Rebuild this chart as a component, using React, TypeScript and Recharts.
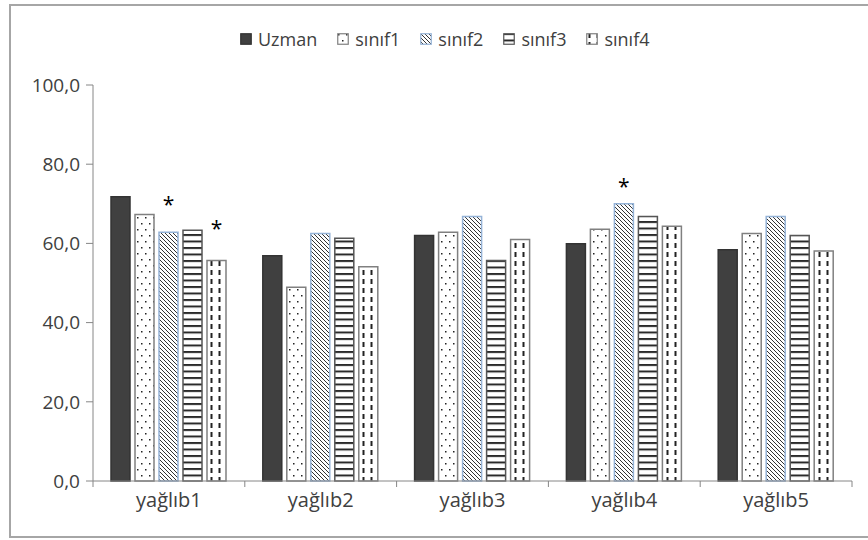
import React from "react"
import { BarChart, Bar, XAxis, YAxis, LabelList } from "recharts"

const categories = ["yağlıb1", "yağlıb2", "yağlıb3", "yağlıb4", "yağlıb5"]
const seriesNames = ["Uzman", "sınıf1", "sınıf2", "sınıf3", "sınıf4"]

const uzman = [71.8, 56.9, 62.0, 59.9, 58.4]
const sinif1 = [67.3, 48.9, 62.8, 63.6, 62.5]
const sinif2 = [62.8, 62.5, 66.8, 70.0, 66.8]
const sinif3 = [63.3, 61.3, 55.7, 66.8, 62.0]
const sinif4 = [55.7, 54.1, 61.0, 64.3, 58.1]

// level (in axis units) where the "*" marks sit
const sinif2Star = [70.5, null, null, 74.9, null]
const sinif4Star = [64.5, null, null, null, null]

const yTicks = [0, 20, 40, 60, 80, 100]

const values = [uzman, sinif1, sinif2, sinif3, sinif4]

const data = categories.map((name, i) => {
  const row: any = { name }
  seriesNames.forEach((s, j) => {
    row[s] = values[j][i]
  })
  row.s2 = sinif2Star[i]
  row.s4 = sinif4Star[i]
  return row
})

const styles = [
  { fill: "#404040", stroke: "#333333" },
  { fill: "url(#pDots)", stroke: "#808080" },
  { fill: "url(#pDiag)", stroke: "#95b3d7" },
  { fill: "url(#pHoriz)", stroke: "#555555" },
  { fill: "url(#pDash)", stroke: "#808080" },
]

const FONT = "'Open Sans', 'Liberation Sans', sans-serif"
const TEXT = "#404040"
const AXIS = "#868686"

const Patterns = () => (
  <svg width={0} height={0} style={{ position: "absolute" }}>
    <defs>
      <pattern id="pDots" width={8} height={12} patternUnits="userSpaceOnUse">
        <rect width={8} height={12} fill="#fff" />
        <rect x={1} y={1} width={1.5} height={1.5} fill="#222" />
        <rect x={5} y={7} width={1.5} height={1.5} fill="#222" />
      </pattern>
      <pattern id="pDiag" width={4} height={4} patternUnits="userSpaceOnUse">
        <rect width={4} height={4} fill="#fff" />
        <path d="M-1,-1 L5,5 M-1,3 L1,5 M3,-1 L5,1" stroke="#333" strokeWidth={1} />
      </pattern>
      <pattern id="pHoriz" width={6} height={6.5} patternUnits="userSpaceOnUse">
        <rect width={6} height={6.5} fill="#fff" />
        <rect x={0} y={0} width={6} height={2} fill="#2a2a2a" />
      </pattern>
      <pattern id="pDash" width={8} height={9} patternUnits="userSpaceOnUse">
        <rect width={8} height={9} fill="#fff" />
        <rect x={2.5} y={0} width={2} height={5} fill="#222" />
      </pattern>
    </defs>
  </svg>
)

const CategoryTick = (props: any) => {
  const { x, y, payload, index, visibleTicksCount } = props
  const count = visibleTicksCount || categories.length
  const band = (props.width || 759) / count
  return (
    <g>
      <line x1={x - band / 2} x2={x - band / 2} y1={y} y2={y + 6} stroke={AXIS} />
      {index === count - 1 && (
        <line x1={x + band / 2} x2={x + band / 2} y1={y} y2={y + 6} stroke={AXIS} />
      )}
      <text x={x} y={y + 26} textAnchor="middle" fontSize={20} fill={TEXT} fontFamily={FONT}>
        {payload.value}
      </text>
    </g>
  )
}

const starLabel = (seriesName: string) => (p: any) => {
  const star = p.value
  if (star == null) return null
  const v = data[p.index][seriesName]
  const k = p.height / v
  const sy = p.y - (star - v) * k
  return (
    <text x={p.x + p.width / 2} y={sy + 10} textAnchor="middle" fontSize={21} fill="#000" fontFamily={FONT}>
      *
    </text>
  )
}

const LegendBox = () => (
  <div
    style={{
      position: "absolute",
      left: 240,
      top: 27,
      display: "flex",
      gap: 20,
      fontFamily: FONT,
      fontSize: 18,
      color: TEXT,
      lineHeight: "24px",
    }}
  >
    {seriesNames.map((s, i) => (
      <div key={s} style={{ display: "flex", alignItems: "center", gap: 6 }}>
        <svg width={12} height={12}>
          <rect x={0.75} y={0.75} width={10.5} height={10.5} fill={styles[i].fill} stroke={styles[i].stroke} strokeWidth={1.2} />
        </svg>
        <span>{s}</span>
      </div>
    ))}
  </div>
)

export default function App() {
  return (
    <div style={{ position: "absolute", left: 0, top: 0, width: 868, height: 540, background: "#fff", overflow: "hidden" }}>
      <Patterns />
      <div
        style={{
          position: "absolute",
          left: 9,
          top: 4,
          width: 880,
          height: 530,
          border: "2px solid #a6a6a6",
        }}
      />
      <div style={{ position: "absolute", left: 0, top: 0 }}>
        <BarChart
          width={868}
          height={540}
          data={data}
          margin={{ top: 85, right: 16, left: 0, bottom: 29 }}
          barGap={5}
        >
          <XAxis
            dataKey="name"
            height={30}
            tick={<CategoryTick />}
            tickLine={false}
            tickSize={0}
            tickMargin={0}
            axisLine={{ stroke: AXIS }}
            interval={0}
          />
          <YAxis
            type="number"
            domain={[0, 100]}
            ticks={yTicks}
            width={93}
            tickSize={7}
            tickMargin={6}
            tickLine={{ stroke: AXIS }}
            axisLine={{ stroke: AXIS }}
            tick={{ fill: TEXT, fontSize: 19, fontFamily: FONT }}
            tickFormatter={(v: number) => v.toFixed(1).replace(".", ",")}
          />
          {seriesNames.map((s, i) => (
            <Bar
              key={s}
              dataKey={s}
              barSize={19}
              fill={styles[i].fill}
              stroke={styles[i].stroke}
              strokeWidth={1.5}
              isAnimationActive={false}
            >
              {i === 2 && <LabelList dataKey="s2" content={starLabel(s)} />}
              {i === 4 && <LabelList dataKey="s4" content={starLabel(s)} />}
            </Bar>
          ))}
        </BarChart>
      </div>
      <LegendBox />
    </div>
  )
}
